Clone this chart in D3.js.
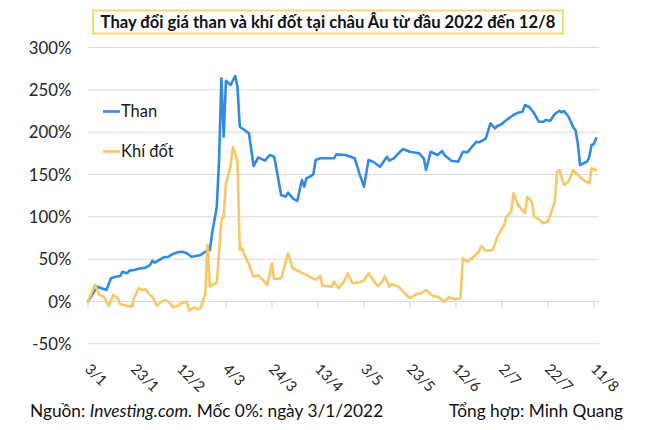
<!DOCTYPE html>
<html><head><meta charset="utf-8">
<script src="https://cdn.jsdelivr.net/npm/d3@7"></script>
<style>
html,body{margin:0;padding:0;background:#fff;}
svg{display:block;font-family:Lato,"Noto Sans",sans-serif;}
</style></head>
<body>
<svg id="chart" width="653" height="430"></svg>
<script>
// ---- data (percent change vs 3/1/2022) ----
const coalDates = ["3/1","7/1","11/1","13/1","15/1","17/1","18/1","20/1","21/1","23/1","26/1","28/1","30/1","31/1","1/2","3/2","5/2","7/2","9/2","11/2","13/2","15/2","17/2","19/2","21/2","23/2","25/2","26/2","28/2","1/3","2/3","3/3","4/3","6/3","8/3","9/3","10/3","12/3","14/3","16/3","18/3","21/3","23/3","25/3","28/3","30/3","31/3","2/4","4/4","6/4","7/4","8/4","10/4","11/4","12/4","14/4","20/4","21/4","25/4","29/4","1/5","3/5","5/5","7/5","10/5","13/5","14/5","16/5","18/5","20/5","23/5","27/5","29/5","30/5","1/6","4/6","6/6","7/6","10/6","13/6","15/6","17/6","19/6","21/6","22/6","24/6","25/6","27/6","29/6","30/6","2/7","3/7","5/7","7/7","9/7","11/7","12/7","14/7","16/7","18/7","20/7","21/7","23/7","25/7","27/7","28/7","29/7","31/7","2/8","3/8","4/8","5/8","8/8","9/8","10/8","11/8","12/8"];
const coalValues = [0,17.5,13.6,27.4,29.3,30.1,35.2,33.3,36.4,37.2,39.2,39.9,43.1,48.2,45.8,49,52.2,52.9,56.1,58.1,58.8,56.9,52.9,53.7,54.9,58.8,60.8,80.9,112,167,263.6,194.6,260.8,255.7,266.3,253.7,206.4,202.5,198.6,160,170.3,166.3,173,171,125.8,123.8,128.5,121.9,118.7,143.5,135.6,145.5,148.2,150.2,167.1,169.1,169.1,173.8,173,169.1,151.4,135.6,167.1,165.1,159.2,171,166.3,169.1,175,180.1,176.9,175,169.1,155.3,176.9,173,177.7,173,166.3,165.1,176.9,176.2,182.8,188.7,188,190.7,192.7,210.5,204.5,207.3,209.6,212.3,216.4,220.3,223,224.2,232.1,229.4,222.3,212.3,212.3,214.4,213.5,221.4,225.3,223.4,225,218.2,205.7,202.5,186.8,161.2,165.1,171,184.8,186,192.7];

const gasDates = ["3/1","6/1","8/1","10/1","12/1","14/1","16/1","17/1","20/1","22/1","23/1","25/1","27/1","28/1","30/1","31/1","2/2","3/2","5/2","7/2","9/2","11/2","13/2","15/2","16/2","18/2","19/2","21/2","23/2","24/2","25/2","28/2","2/3","3/3","4/3","6/3","7/3","9/3","10/3","11/3","13/3","14/3","16/3","18/3","22/3","24/3","25/3","28/3","31/3","2/4","6/4","12/4","14/4","15/4","16/4","19/4","20/4","22/4","24/4","26/4","28/4","1/5","3/5","5/5","7/5","9/5","11/5","12/5","14/5","15/5","18/5","21/5","23/5","26/5","28/5","30/5","2/6","4/6","7/6","9/6","12/6","14/6","15/6","17/6","19/6","22/6","23/6","25/6","28/6","30/6","3/7","4/7","6/7","7/7","9/7","12/7","13/7","15/7","16/7","18/7","20/7","22/7","25/7","26/7","27/7","29/7","31/7","2/8","4/8","6/8","9/8","10/8","12/8"];
const gasValues = [0,19.5,7.7,5,-5.3,7.7,3.8,-3,-5.3,-6.1,3.8,15.6,13.6,14.4,7.7,5.7,-5.3,-2.1,1.8,-0.2,-6.9,-5.3,-1.4,-0.2,-10.9,-6.9,-9.2,-8,9.7,66.7,17.5,22.2,96.3,100.2,139.6,159.2,182.1,167.1,60.8,62.8,49,44.3,29.3,31.3,19.5,45.1,26.2,27.4,56.9,39.2,34,25.4,30.1,18.3,18.3,17.5,23.4,15.6,22.2,33.3,21.5,22.7,24.6,33.3,25.4,18.3,23.4,30.1,17.5,20.7,17.5,8.9,3.8,8.9,9.7,13.6,6.5,5.7,-0.2,5,2.6,3.8,51,47,51,58.8,65.5,60,60.8,76.5,90.3,100.2,106.1,127.8,114,104.2,123.8,117.9,100.2,97.1,92.4,94.2,117.9,153.3,155.3,137.6,141.5,155.3,149.4,144.3,139.6,157.3,155];

const yTicks = [-50,0,50,100,150,200,250,300];
const xTickLabels = ["3/1","23/1","12/2","4/3","24/3","13/4","3/5","23/5","12/6","2/7","22/7","11/8"];
const seriesNames = ["Than","Khí đốt"];
const titleText = "Thay đổi giá than và khí đốt tại châu Âu từ đầu 2022 đến 12/8";

// ---- setup ----
const parse = s => d3.timeParse("%d/%m/%Y")(s + "/2022");
const coal = coalDates.map((d,i)=>({date:parse(d), v:coalValues[i]}));
const gas = gasDates.map((d,i)=>({date:parse(d), v:gasValues[i]}));

const svg = d3.select("#chart");
const x = d3.scaleTime().domain([parse("3/1"), parse("13/8")]).range([88, 598.5]);
const y = d3.scaleLinear().domain([-50, 300]).range([343.8, 47.5]);

// gridlines
svg.append("g").selectAll("line").data(yTicks).join("line")
  .attr("x1", 88).attr("x2", 599)
  .attr("y1", d=>y(d)).attr("y2", d=>y(d))
  .attr("stroke", "#d9d9d9").attr("stroke-width", 1);

// y labels
svg.append("g").selectAll("text").data(yTicks).join("text")
  .attr("x", 71.5).attr("y", d=>y(d)).attr("dy", "0.36em")
  .attr("text-anchor", "end").attr("font-size", 16.8).attr("fill", "#262626")
  .text(d=>d+"%");

// x axis at 0 with ticks, labels at bottom
const xt = xTickLabels.map(parse);
svg.append("g").selectAll("line").data(xt).join("line")
  .attr("x1", d=>x(d)).attr("x2", d=>x(d))
  .attr("y1", y(0)).attr("y2", y(0)+6)
  .attr("stroke", "#d0d0d0").attr("stroke-width", 1);
svg.append("g").selectAll("text").data(xt).join("text")
  .attr("transform", d=>`translate(${x(d)-4},${370}) rotate(45)`)
  .attr("font-size", 14.8).attr("fill", "#262626")
  .text((d,i)=>xTickLabels[i]);

// lines
const line = d3.line().x(d=>x(d.date)).y(d=>y(d.v));
svg.append("path").datum(coal).attr("d", line)
  .attr("fill","none").attr("stroke","#338ae3").attr("stroke-width",2.6)
  .attr("stroke-linejoin","round").attr("stroke-linecap","round");
svg.append("path").datum(gas).attr("d", line)
  .attr("fill","none").attr("stroke","#f8c767").attr("stroke-width",2.6)
  .attr("stroke-linejoin","round").attr("stroke-linecap","round");

// legend
const legColors = ["#338ae3","#f8c767"];
const leg = svg.append("g");
seriesNames.forEach((n,i)=>{
  const yy = 111.5 + i*40;
  leg.append("line").attr("x1",103).attr("x2",120).attr("y1",yy).attr("y2",yy)
    .attr("stroke",legColors[i]).attr("stroke-width",2.6);
  leg.append("text").attr("x",121).attr("y",yy).attr("dy","0.36em")
    .attr("font-size",16.5).attr("fill","#1a1a1a").text(n);
});

// title
svg.append("rect").attr("x",93).attr("y",10.5).attr("width",470).attr("height",23)
  .attr("fill","#fff").attr("stroke","#f3d77a").attr("stroke-width",2);
svg.append("text").attr("x",328).attr("y",27.5).attr("text-anchor","middle")
  .attr("font-size",16.6).attr("font-weight","bold").attr("fill","#111")
  .text(titleText);

// footer
const f = svg.append("text").attr("x",30).attr("y",417).attr("font-size",17.3).attr("fill","#111");
f.append("tspan").text("Nguồn: ");
f.append("tspan").attr("font-style","italic").text("Investing.com.");
f.append("tspan").text(" Mốc 0%: ngày 3/1/2022");
svg.append("text").attr("x",449).attr("y",417).attr("font-size",17.3).attr("fill","#111")
  .text("Tổng hợp: Minh Quang");
</script>
</body></html>
